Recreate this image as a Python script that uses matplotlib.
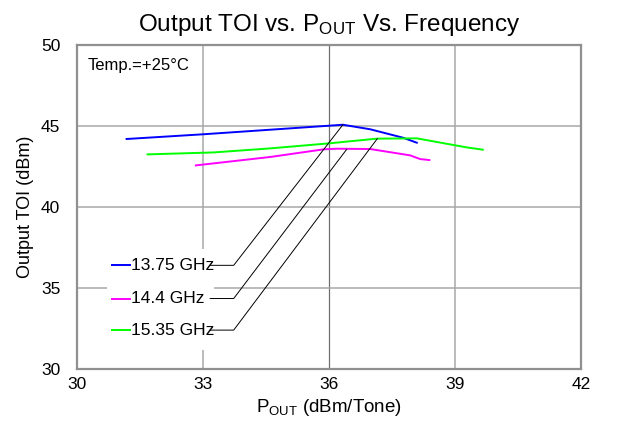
import matplotlib
matplotlib.use('Agg')
import matplotlib.pyplot as plt

plt.rcParams['font.family'] = ['Liberation Sans', 'DejaVu Sans']

# data
pout_1375 = [31.18, 33.0, 36.0, 36.33, 36.98, 37.76, 38.09]
toi_1375 = [44.2, 44.49, 45.02, 45.08, 44.8, 44.28, 43.97]
pout_144 = [32.83, 34.6, 35.87, 36.18, 36.98, 37.93, 38.17, 38.39]
toi_144 = [42.57, 43.09, 43.56, 43.6, 43.58, 43.19, 42.96, 42.9]
pout_1535 = [31.68, 33.25, 34.6, 36.0, 37.13, 38.09, 39.28, 39.66]
toi_1535 = [43.25, 43.37, 43.62, 43.93, 44.22, 44.24, 43.68, 43.54]

labels = ['13.75 GHz', '14.4 GHz', '15.35 GHz']
colors = ['#0000ff', '#ff00ff', '#00ff00']
# where each leader line touches its curve, and its label row
anchor_x = [36.33, 36.42, 37.15]
anchor_y = [45.08, 43.56, 44.22]
label_y = [36.4, 34.35, 32.4]

fig = plt.figure(figsize=(6.35, 4.25), dpi=100)
ax = fig.add_axes([0.1213, 0.1318, 0.7937, 0.7622])

ax.plot(pout_1375, toi_1375, color=colors[0], lw=1.4)
ax.plot(pout_144, toi_144, color=colors[1], lw=1.4)
ax.plot(pout_1535, toi_1535, color=colors[2], lw=1.4)

ax.set_xlim(30, 42)
ax.set_ylim(30, 50)
ax.set_xticks([30, 33, 36, 39, 42])
ax.set_yticks([30, 35, 40, 45, 50])
ax.grid(True, color='#a8a8a8', lw=1.1)
for g, t in zip(ax.get_xgridlines(), ax.get_xticks()):
    if t == 36:
        g.set_color('#707070')
        g.set_linewidth(0.9)
for s in ax.spines.values():
    s.set_color('#909090')
    s.set_linewidth(1.6)
ax.tick_params(axis='x', length=0, labelsize=12.5, pad=5.5)
ax.tick_params(axis='y', length=0, labelsize=12.5, pad=12)

# white legend box over the grid
ax.fill_between([30.72, 33.25], 31.2, 37.4, color='white', zorder=2, lw=0)

for lab, c, ax_, ay_, ly in zip(labels, colors, anchor_x, anchor_y, label_y):
    ax.plot([30.84, 31.26], [ly, ly], color=c, lw=1.4, zorder=3)
    ax.text(31.28, ly, lab, fontsize=12.5, va='center', ha='left', zorder=4)
    ax.plot([33.17, 33.73, ax_], [ly, ly, ay_], color='black', lw=0.7, zorder=4)

ax.text(30.26, 48.75, 'Temp.=+25°C', fontsize=12, va='center', ha='left')

ax.set_title(r'Output TOI vs. $\mathregular{P_{OUT}}$ Vs. Frequency', fontsize=17.5, pad=10)
ax.set_xlabel(r'$\mathregular{P_{OUT}}$ (dBm/Tone)', fontsize=13.5, labelpad=4)
ax.set_ylabel('Output TOI (dBm)', fontsize=13, labelpad=5)

fig.savefig('out.png', dpi=100)
